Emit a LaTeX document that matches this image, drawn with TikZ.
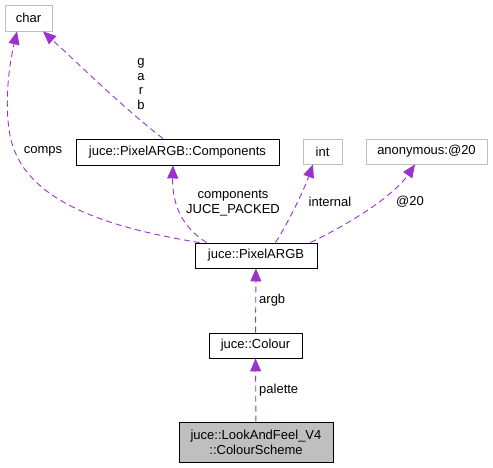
\documentclass[tikz,border=0pt]{standalone}
\usepackage{fontspec}
\setmainfont{Liberation Sans}
\usetikzlibrary{arrows.meta}
\definecolor{usepurple}{HTML}{9A32CD}
\definecolor{boxgrey}{HTML}{BFBFBF}
\tikzset{
    cls/.style={draw=black, line width=0.9pt, inner sep=0pt, align=center, font=\fontsize{13}{15}\selectfont},
    extcls/.style={cls, draw=boxgrey},
    uses/.style={draw=usepurple, line width=0.9pt, dash pattern=on 6pt off 4pt, -{Triangle[length=13pt,width=11pt]}},
    lbl/.style={inner sep=0pt, align=center, font=\fontsize{13}{14.5}\selectfont}
}
\begin{document}
\begin{tikzpicture}[x=1pt, y=-1pt]
    \useasboundingbox (0,0) rectangle (493,468);
    \node[extcls, minimum width=47pt, minimum height=26pt] (char) at (28.5,18) {char};
    \node[cls, minimum width=203pt, minimum height=26pt] (comp) at (177.5,152) {juce::PixelARGB::Components};
    \node[extcls, minimum width=39pt, minimum height=25pt] (int) at (322.5,151.5) {int};
    \node[extcls, minimum width=121pt, minimum height=25pt] (anon) at (426.5,151.5) {anonymous:@20};
    \node[cls, minimum width=122pt, minimum height=25pt] (pix) at (256,255.5) {juce::PixelARGB};
    \node[cls, minimum width=93pt, minimum height=25pt] (colour) at (255.5,345.5) {juce::Colour};
    \node[cls, fill=boxgrey, minimum width=154pt, minimum height=40pt] (scheme) at (256,442) {juce::LookAndFeel\_V4\\::ColourScheme};
    \draw[uses] (scheme) -- (colour) node[lbl, pos=0.5, right=3pt] {palette};
    \draw[uses] (colour) -- (pix) node[lbl, pos=0.5, right=3pt] {argb};
    \draw[uses] ([xshift=12pt]pix.north west) .. controls (183,228) and (172,205) .. ([xshift=-4.5pt]comp.south);
    \draw[uses] ([xshift=-42pt]pix.north east) .. controls (285,228) and (302,195) .. ([xshift=-9.5pt]int.south);
    \draw[uses] ([xshift=-7pt]pix.north east) .. controls (345,226) and (392,198) .. ([xshift=-11.5pt]anon.south);
    \draw[uses] ([xshift=5pt]pix.north west) .. controls (90,225) and (25,195) .. (11,140) .. controls (4,110) and (8,70) .. ([xshift=-11.5pt]char.south);
    \draw[uses] ([xshift=-14.5pt]comp.north) .. controls (120,105) and (80,65) .. ([xshift=14.5pt]char.south);
    \node[lbl] (garb) at (141,84) {g\\a\\r\\b};
    \node[lbl] (compslbl) at (43,151) {comps};
    \node[lbl] (packedlbl) at (233,203) {components\\JUCE\_PACKED};
    \node[lbl] (intlbl) at (330,202) {internal};
    \node[lbl] (anonlbl) at (410,202) {@20};
\end{tikzpicture}
\end{document}
